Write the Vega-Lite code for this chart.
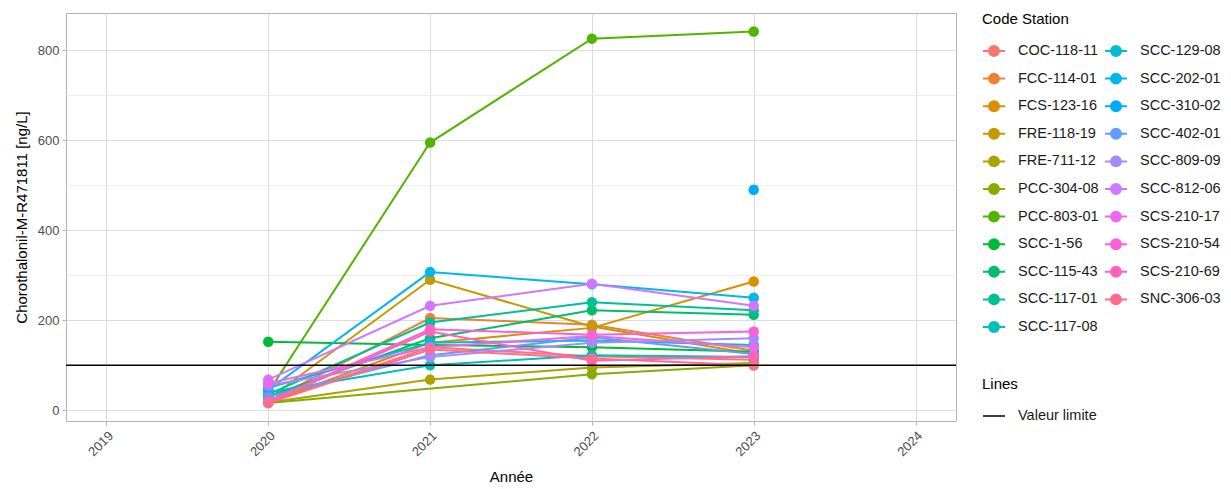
{
  "$schema": "https://vega.github.io/schema/vega-lite/v6.json",
  "width": 890,
  "height": 408,
  "autosize": {"type": "none"},
  "padding": {"left": 66, "top": 13, "right": 275, "bottom": 68},
  "background": "white",
  "config": {
    "font": "Liberation Sans",
    "view": {"stroke": "#B3B3B3", "strokeWidth": 1},
    "axis": {
      "domain": false,
      "tickColor": "#B3B3B3",
      "tickSize": 4,
      "labelColor": "#4D4D4D",
      "labelFontSize": 13,
      "labelPadding": 3,
      "titleColor": "#000000",
      "titleFontSize": 15,
      "titleFontWeight": "normal"
    }
  },
  "data": {
    "values": [
      {"station": "COC-118-11", "annee": 2020, "valeur": 17},
      {"station": "COC-118-11", "annee": 2021, "valeur": 140},
      {"station": "COC-118-11", "annee": 2022, "valeur": 120},
      {"station": "COC-118-11", "annee": 2023, "valeur": 112},
      {"station": "FCC-114-01", "annee": 2020, "valeur": 20},
      {"station": "FCC-114-01", "annee": 2021, "valeur": 205},
      {"station": "FCC-114-01", "annee": 2022, "valeur": 190},
      {"station": "FCC-114-01", "annee": 2023, "valeur": 132},
      {"station": "FCS-123-16", "annee": 2020, "valeur": 18},
      {"station": "FCS-123-16", "annee": 2021, "valeur": 150},
      {"station": "FCS-123-16", "annee": 2022, "valeur": 183},
      {"station": "FCS-123-16", "annee": 2023, "valeur": 286},
      {"station": "FRE-118-19", "annee": 2020, "valeur": 25},
      {"station": "FRE-118-19", "annee": 2021, "valeur": 290},
      {"station": "FRE-118-19", "annee": 2022, "valeur": 186},
      {"station": "FRE-118-19", "annee": 2023, "valeur": 125},
      {"station": "FRE-711-12", "annee": 2020, "valeur": 17},
      {"station": "FRE-711-12", "annee": 2021, "valeur": 68},
      {"station": "FRE-711-12", "annee": 2022, "valeur": 95},
      {"station": "FRE-711-12", "annee": 2023, "valeur": 105},
      {"station": "PCC-304-08", "annee": 2020, "valeur": 16},
      {"station": "PCC-304-08", "annee": 2022, "valeur": 80},
      {"station": "PCC-304-08", "annee": 2023, "valeur": 100},
      {"station": "PCC-803-01", "annee": 2020, "valeur": 40},
      {"station": "PCC-803-01", "annee": 2021, "valeur": 595},
      {"station": "PCC-803-01", "annee": 2022, "valeur": 826},
      {"station": "PCC-803-01", "annee": 2023, "valeur": 842},
      {"station": "SCC-1-56", "annee": 2020, "valeur": 152},
      {"station": "SCC-1-56", "annee": 2021, "valeur": 145},
      {"station": "SCC-1-56", "annee": 2022, "valeur": 140},
      {"station": "SCC-1-56", "annee": 2023, "valeur": 130},
      {"station": "SCC-115-43", "annee": 2020, "valeur": 30},
      {"station": "SCC-115-43", "annee": 2021, "valeur": 160},
      {"station": "SCC-115-43", "annee": 2022, "valeur": 222},
      {"station": "SCC-115-43", "annee": 2023, "valeur": 212},
      {"station": "SCC-117-01", "annee": 2020, "valeur": 35},
      {"station": "SCC-117-01", "annee": 2021, "valeur": 195},
      {"station": "SCC-117-01", "annee": 2022, "valeur": 240},
      {"station": "SCC-117-01", "annee": 2023, "valeur": 222},
      {"station": "SCC-117-08", "annee": 2020, "valeur": 40},
      {"station": "SCC-117-08", "annee": 2021, "valeur": 100},
      {"station": "SCC-117-08", "annee": 2022, "valeur": 122},
      {"station": "SCC-117-08", "annee": 2023, "valeur": 118},
      {"station": "SCC-129-08", "annee": 2020, "valeur": 50},
      {"station": "SCC-129-08", "annee": 2021, "valeur": 150},
      {"station": "SCC-129-08", "annee": 2022, "valeur": 155},
      {"station": "SCC-129-08", "annee": 2023, "valeur": 145},
      {"station": "SCC-202-01", "annee": 2020, "valeur": 45},
      {"station": "SCC-202-01", "annee": 2021, "valeur": 307},
      {"station": "SCC-202-01", "annee": 2022, "valeur": 280},
      {"station": "SCC-202-01", "annee": 2023, "valeur": 250},
      {"station": "SCC-310-02", "annee": 2023, "valeur": 490},
      {"station": "SCC-402-01", "annee": 2020, "valeur": 30},
      {"station": "SCC-402-01", "annee": 2021, "valeur": 122},
      {"station": "SCC-402-01", "annee": 2022, "valeur": 162},
      {"station": "SCC-402-01", "annee": 2023, "valeur": 125},
      {"station": "SCC-809-09", "annee": 2020, "valeur": 55},
      {"station": "SCC-809-09", "annee": 2021, "valeur": 118},
      {"station": "SCC-809-09", "annee": 2022, "valeur": 150},
      {"station": "SCC-809-09", "annee": 2023, "valeur": 160},
      {"station": "SCC-812-06", "annee": 2020, "valeur": 68},
      {"station": "SCC-812-06", "annee": 2021, "valeur": 232},
      {"station": "SCC-812-06", "annee": 2022, "valeur": 281},
      {"station": "SCC-812-06", "annee": 2023, "valeur": 232},
      {"station": "SCS-210-17", "annee": 2020, "valeur": 60},
      {"station": "SCS-210-17", "annee": 2021, "valeur": 140},
      {"station": "SCS-210-17", "annee": 2022, "valeur": 165},
      {"station": "SCS-210-17", "annee": 2023, "valeur": 140},
      {"station": "SCS-210-54", "annee": 2020, "valeur": 20},
      {"station": "SCS-210-54", "annee": 2021, "valeur": 180},
      {"station": "SCS-210-54", "annee": 2022, "valeur": 168},
      {"station": "SCS-210-54", "annee": 2023, "valeur": 175},
      {"station": "SCS-210-69", "annee": 2020, "valeur": 18},
      {"station": "SCS-210-69", "annee": 2021, "valeur": 175},
      {"station": "SCS-210-69", "annee": 2022, "valeur": 110},
      {"station": "SCS-210-69", "annee": 2023, "valeur": 120},
      {"station": "SNC-306-03", "annee": 2020, "valeur": 16},
      {"station": "SNC-306-03", "annee": 2021, "valeur": 135},
      {"station": "SNC-306-03", "annee": 2022, "valeur": 115},
      {"station": "SNC-306-03", "annee": 2023, "valeur": 100}
    ]
  },
  "encoding": {
    "x": {
      "field": "annee",
      "type": "quantitative",
      "title": "Année",
      "scale": {"domain": [2018.75, 2024.25], "nice": false, "zero": false},
      "axis": {
        "values": [2019, 2019.5, 2020, 2020.5, 2021, 2021.5, 2022, 2022.5, 2023, 2023.5, 2024],
        "format": "d",
        "labelExpr": "datum.value % 1 === 0 ? datum.label : ''",
        "labelAngle": -45,
        "labelAlign": "right",
        "labelBaseline": "top",
        "labelPadding": 4,
        "titlePadding": 11,
        "gridColor": {"condition": {"test": "datum.value % 1 !== 0", "value": "#EEEEEE"}, "value": "#DCDCDC"},
        "tickOpacity": {"condition": {"test": "datum.value % 1 !== 0", "value": 0}, "value": 1}
      }
    },
    "y": {
      "field": "valeur",
      "type": "quantitative",
      "title": "Chorothalonil-M-R471811 [ng/L]",
      "scale": {"domain": [-24, 883], "nice": false, "zero": false},
      "axis": {
        "values": [0, 100, 200, 300, 400, 500, 600, 700, 800],
        "labelExpr": "datum.value % 200 === 0 ? datum.label : ''",
        "titlePadding": 8,
        "gridColor": {"condition": {"test": "datum.value % 200 !== 0", "value": "#EEEEEE"}, "value": "#DCDCDC"},
        "tickOpacity": {"condition": {"test": "datum.value % 200 !== 0", "value": 0}, "value": 1}
      }
    }
  },
  "layer": [
    {
      "mark": {"type": "line", "strokeWidth": 2},
      "encoding": {
        "color": {
          "field": "station",
          "type": "nominal",
          "title": "Code Station",
          "scale": {
            "domain": ["COC-118-11", "FCC-114-01", "FCS-123-16", "FRE-118-19", "FRE-711-12", "PCC-304-08", "PCC-803-01", "SCC-1-56", "SCC-115-43", "SCC-117-01", "SCC-117-08", "SCC-129-08", "SCC-202-01", "SCC-310-02", "SCC-402-01", "SCC-809-09", "SCC-812-06", "SCS-210-17", "SCS-210-54", "SCS-210-69", "SNC-306-03"],
            "range": ["#F8766D", "#EB8335", "#DA8F00", "#C49A00", "#AAA300", "#86AC00", "#53B400", "#00BA38", "#00BE6C", "#00C094", "#00C0B5", "#00BDD2", "#00B6EB", "#00ABFD", "#619CFF", "#A58AFF", "#CF78FF", "#EB69EF", "#FB61D7", "#FF62BA", "#FF6C91"]
          },
          "legend": {
            "orient": "none",
            "legendX": 916,
            "legendY": -1,
            "columns": 2,
            "padding": 0,
            "titleFontSize": 15,
            "titleFontWeight": "normal",
            "titleColor": "#000000",
            "titlePadding": 12,
            "labelFontSize": 14.5,
            "labelColor": "#1A1A1A",
            "labelOffset": 12,
            "rowPadding": 6.6,
            "columnPadding": 2,
            "symbolType": "M-1,0H1M-0.45,0A0.45,0.45 0 1,0 0.45,0A0.45,0.45 0 1,0 -0.45,0Z",
            "symbolSize": 484,
            "symbolStrokeWidth": 2,
            "symbolOpacity": 1,
            "encode": {
              "symbols": {
                "update": {
                  "fill": {"scale": "color", "field": "value"},
                  "stroke": {"scale": "color", "field": "value"}
                }
              }
            }
          }
        }
      }
    },
    {
      "mark": {"type": "point", "filled": true, "size": 110, "opacity": 1},
      "encoding": {
        "color": {"field": "station", "type": "nominal"}
      }
    },
    {
      "data": {"values": [{"ligne": "Valeur limite", "seuil": 100}]},
      "mark": {"type": "rule", "strokeWidth": 1.5},
      "encoding": {
        "y": {"field": "seuil", "type": "quantitative"},
        "x": null,
        "stroke": {
          "field": "ligne",
          "type": "nominal",
          "title": "Lines",
          "scale": {"range": ["#000000"]},
          "legend": {
            "orient": "none",
            "legendX": 916,
            "legendY": 364,
            "padding": 0,
            "titleFontSize": 15,
            "titleFontWeight": "normal",
            "titleColor": "#000000",
            "titlePadding": 12,
            "labelFontSize": 14.5,
            "labelColor": "#1A1A1A",
            "labelOffset": 12,
            "symbolType": "M-1,0H1",
            "symbolSize": 484,
            "symbolStrokeWidth": 1.5
          }
        }
      }
    }
  ]
}
